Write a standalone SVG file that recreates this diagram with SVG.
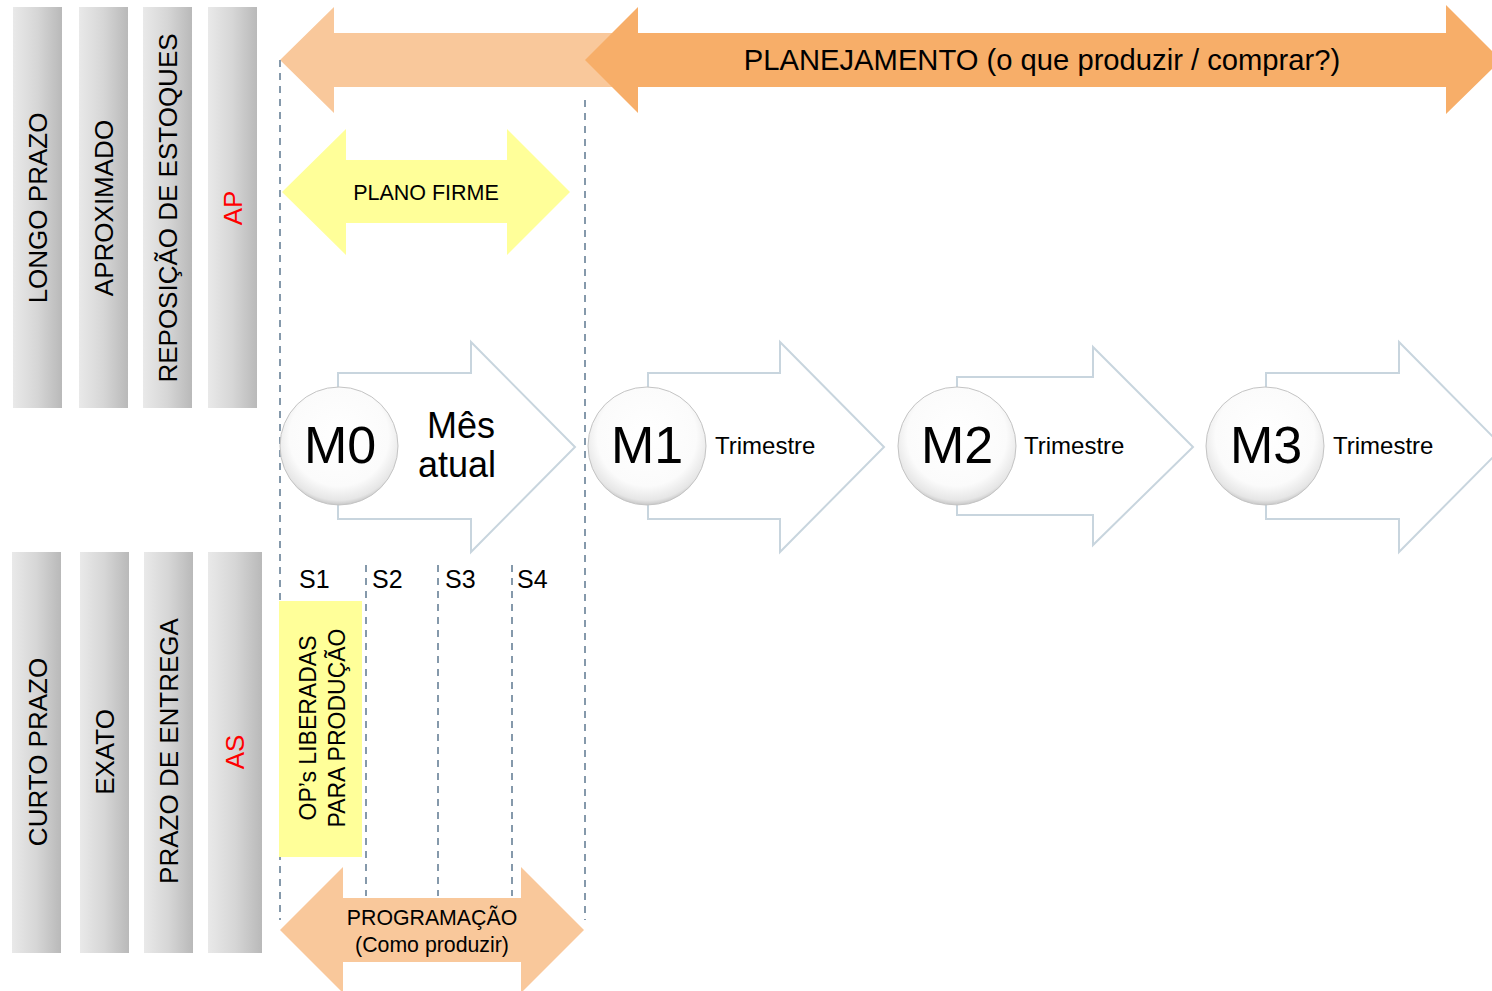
<svg xmlns="http://www.w3.org/2000/svg" width="1492" height="991" viewBox="0 0 1492 991">
  <defs>
    <linearGradient id="barGrad" x1="0" y1="0" x2="1" y2="0">
      <stop offset="0" stop-color="#e9e9e9"/>
      <stop offset="0.5" stop-color="#d6d6d6"/>
      <stop offset="1" stop-color="#b9b9b9"/>
    </linearGradient>
    <radialGradient id="ballGrad" cx="0.5" cy="0.42" r="0.6">
      <stop offset="0" stop-color="#ffffff"/>
      <stop offset="0.7" stop-color="#fbfbfb"/>
      <stop offset="0.9" stop-color="#e6e6e6"/>
      <stop offset="1" stop-color="#b8b8b8"/>
    </radialGradient>
    <style>
      text { font-family: "Liberation Sans", Arial, sans-serif; fill: #000; }
      .bar { fill: url(#barGrad); }
      .lbl { font-size: 26px; text-anchor: middle; }
      .red { fill: #ff0000; }
      .guide { stroke: #8599ab; stroke-width: 2; stroke-dasharray: 7 6; fill: none; }
      .chev { fill: #ffffff; stroke: #c8d5de; stroke-width: 2; }
      .ball { fill: url(#ballGrad); stroke: #c4c4c4; stroke-width: 1; }
      .mtxt { font-size: 52px; text-anchor: middle; }
      .tri { font-size: 24px; }
      .week { font-size: 25px; }
    </style>
  </defs>

  <!-- horizon bars, upper block -->
  <g id="bar-longo-prazo">
    <rect class="bar" x="13" y="7" width="49" height="401"/>
    <text class="lbl" transform="translate(47,208) rotate(-90)">LONGO PRAZO</text>
  </g>
  <g id="bar-aproximado">
    <rect class="bar" x="79" y="7" width="49" height="401"/>
    <text class="lbl" transform="translate(113,208) rotate(-90)">APROXIMADO</text>
  </g>
  <g id="bar-reposicao">
    <rect class="bar" x="143" y="7" width="49" height="401"/>
    <text class="lbl" transform="translate(177,208) rotate(-90)">REPOSIÇÃO DE ESTOQUES</text>
  </g>
  <g id="bar-ap">
    <rect class="bar" x="208" y="7" width="49" height="401"/>
    <text class="lbl red" transform="translate(242,208) rotate(-90)">AP</text>
  </g>

  <!-- horizon bars, lower block -->
  <g id="bar-curto-prazo">
    <rect class="bar" x="12" y="552" width="49" height="401"/>
    <text class="lbl" transform="translate(47,752) rotate(-90)">CURTO PRAZO</text>
  </g>
  <g id="bar-exato">
    <rect class="bar" x="80" y="552" width="49" height="401"/>
    <text class="lbl" transform="translate(114,752) rotate(-90)">EXATO</text>
  </g>
  <g id="bar-prazo-entrega">
    <rect class="bar" x="144" y="552" width="49" height="401"/>
    <text class="lbl" transform="translate(178,751) rotate(-90)">PRAZO DE ENTREGA</text>
  </g>
  <g id="bar-as">
    <rect class="bar" x="208" y="552" width="54" height="401"/>
    <text class="lbl red" transform="translate(244,752) rotate(-90)">AS</text>
  </g>

  <!-- planning horizon arrows -->
  <g id="planejamento">
    <polygon fill="#f9c89b" points="280,60 334,7 334,33 720,33 720,87 334,87 334,113"/>
    <polygon fill="#f7ae69" points="585,60 638,7 638,33 1446,33 1446,5 1492,51 1492,69 1446,114 1446,87 638,87 638,113"/>
    <text x="1042" y="70" font-size="29.2" text-anchor="middle">PLANEJAMENTO (o que produzir / comprar?)</text>
  </g>

  <g id="plano-firme">
    <polygon fill="#ffff99" points="282,192 346,129 346,160 507,160 507,129 570,192 507,255 507,223 346,223 346,255"/>
    <text x="426" y="200" font-size="21.5" text-anchor="middle">PLANO FIRME</text>
  </g>

  <!-- dashed guides -->
  <g id="connectors">
    <line class="guide" x1="280" y1="60" x2="280" y2="920"/>
    <line class="guide" x1="585" y1="100" x2="585" y2="920"/>
    <line class="guide" x1="366" y1="565" x2="366" y2="896"/>
    <line class="guide" x1="438" y1="565" x2="438" y2="896"/>
    <line class="guide" x1="512" y1="565" x2="512" y2="896"/>
  </g>

  <!-- month steps -->
  <g id="step-m0">
    <polygon class="chev" points="338,373 471,373 471,342 575,447 471,552 471,519 338,519"/>
    <circle class="ball" cx="339" cy="446" r="59"/>
    <text class="mtxt" x="340" y="463">M0</text>
    <text x="461" y="438" font-size="36" text-anchor="middle">Mês</text>
    <text x="457" y="477" font-size="36" text-anchor="middle">atual</text>
  </g>
  <g id="step-m1">
    <polygon class="chev" points="648,373 780,373 780,342 884,447 780,552 780,519 648,519"/>
    <circle class="ball" cx="647" cy="446" r="59"/>
    <text class="mtxt" x="647" y="463">M1</text>
    <text class="tri" x="715" y="454">Trimestre</text>
  </g>
  <g id="step-m2">
    <polygon class="chev" points="957,377 1093,377 1093,347 1193,447 1093,545 1093,515 957,515"/>
    <circle class="ball" cx="957" cy="446" r="59"/>
    <text class="mtxt" x="957" y="463">M2</text>
    <text class="tri" x="1024" y="454">Trimestre</text>
  </g>
  <g id="step-m3">
    <polygon class="chev" points="1266,373 1399,373 1399,342 1503,447 1399,552 1399,519 1266,519"/>
    <circle class="ball" cx="1265" cy="446" r="59"/>
    <text class="mtxt" x="1266" y="463">M3</text>
    <text class="tri" x="1333" y="454">Trimestre</text>
  </g>

  <!-- weeks -->
  <g id="weeks">
    <text class="week" x="299" y="588">S1</text>
    <text class="week" x="372" y="588">S2</text>
    <text class="week" x="445" y="588">S3</text>
    <text class="week" x="517" y="588">S4</text>
  </g>

  <g id="ops-liberadas">
    <rect x="279" y="601" width="83" height="256" fill="#ffff99"/>
    <text font-size="23" text-anchor="middle" transform="translate(316,728) rotate(-90)">OP’s LIBERADAS</text>
    <text font-size="23" text-anchor="middle" transform="translate(345,728) rotate(-90)">PARA PRODUÇÃO</text>
  </g>

  <g id="programacao">
    <polygon fill="#f9c89b" points="280,930 343,867 343,898 521,898 521,867 584,930 521,993 521,962 343,962 343,993"/>
    <text x="432" y="925" font-size="21.3" text-anchor="middle">PROGRAMAÇÃO</text>
    <text x="432" y="952" font-size="21.3" text-anchor="middle">(Como produzir)</text>
  </g>
</svg>
